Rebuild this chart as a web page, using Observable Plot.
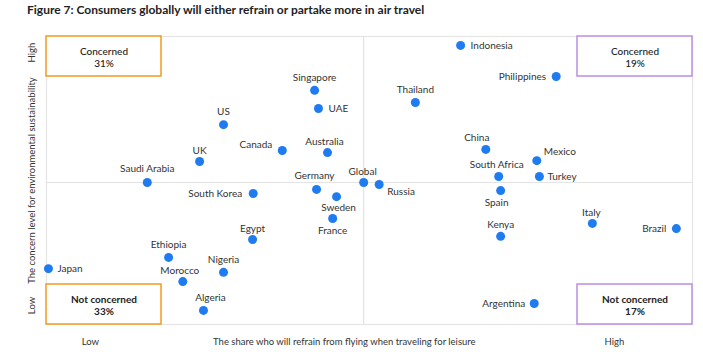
<!DOCTYPE html>
<html>
<head>
<meta charset="utf-8">
<script src="https://cdn.jsdelivr.net/npm/d3@7"></script>
<script src="https://cdn.jsdelivr.net/npm/@observablehq/plot@0.6"></script>
<style>
  html, body { margin: 0; padding: 0; background: #fff; overflow: hidden; }
  #title { font-family: Lato, sans-serif; font-weight: 700; font-size: 12px; color: #222;
           height: 20px; line-height: 20px; padding-left: 27px; white-space: nowrap; }
  #chart svg { display: block; }
</style>
</head>
<body>
<div id="title">Figure 7: Consumers globally will either refrain or partake more in air travel</div>
<div id="chart"></div>
<script>
// ---- data (0–100 index scales) ----
const countries = ["Indonesia","Philippines","Singapore","UAE","Thailand","US","Canada","Australia","UK",
  "Germany","Global","Russia","South Korea","Sweden","France","Egypt","Saudi Arabia","China","Mexico",
  "South Africa","Turkey","Spain","Italy","Kenya","Brazil","Japan","Ethiopia","Morocco","Nigeria","Algeria","Argentina"];
const refrainShare = [64.1,78.9,41.5,42.1,57.1,27.4,36.5,43.5,23.7,
  41.8,49.1,51.5,32.0,44.9,44.3,31.9,15.6,68.0,75.9,
  70.0,76.3,70.3,84.5,70.3,97.5,0.3,18.9,21.1,27.4,24.3,75.5];
const concernLevel = [96.9,86.1,81.3,75.0,77.1,69.4,60.4,59.7,56.6,
  46.9,49.3,48.6,45.5,44.4,36.8,29.5,49.3,60.8,56.9,
  51.4,51.4,46.5,35.1,30.6,33.3,19.4,23.3,14.9,18.1,4.9,7.3];

const quadrantLabels = ["Concerned","Concerned","Not concerned","Not concerned"];
const quadrantShares = [31,19,33,17];
const quadrantSide = ["left","right","left","right"];
const quadrantLevel = ["top","top","bottom","bottom"];

const xTickLabels = ["Low","High"];
const yTickLabels = ["Low","High"];
const xTitle = "The share who will refrain from flying when traveling for leisure";
const yTitle = "The concern level for environmental sustainability";

// ---- presentation ----
const BLUE = "#1f7cf0", ORANGE = "#f39a1e", PURPLE = "#bb8de3", GRID = "#e4e4e4", INK = "#333";
// label placement: [anchor, dx, dy]
const place = {
  "Indonesia":["start",10,0], "Philippines":["end",-10,0], "Singapore":["middle",0,-13], "UAE":["start",10,0],
  "Thailand":["middle",0,-13], "US":["middle",0,-13], "Canada":["end",-10,-6], "Australia":["middle",-3,-11],
  "UK":["middle",0,-11], "Germany":["middle",-2,-14], "Global":["middle",-1,-11], "Russia":["start",8,7],
  "South Korea":["end",-11,0], "Sweden":["middle",2,11], "France":["middle",0,12], "Egypt":["middle",0,-11],
  "Saudi Arabia":["middle",0,-14], "China":["middle",-9,-12], "Mexico":["start",7,-9],
  "South Africa":["middle",-2,-12], "Turkey":["start",8,0], "Spain":["middle",-4,12], "Italy":["middle",-1,-11],
  "Kenya":["middle",0,-12], "Brazil":["end",-10,0], "Japan":["start",9,0], "Ethiopia":["middle",0,-13],
  "Morocco":["middle",-3,-11], "Nigeria":["middle",0,-13], "Algeria":["middle",7,-13], "Argentina":["end",-9,0]
};

const data = countries.map((c, i) => ({country: c, x: refrainShare[i], y: concernLevel[i]}));
const globalPt = data.find(d => d.country === "Global");

const W = 703, H = 332, mL = 46, mR = 11, mT = 16, mB = 28;
const xDom = [0, 100], yDom = [0, 100];
const kx = (W - mL - mR) / (xDom[1] - xDom[0]);   // px per unit
const ky = (H - mT - mB) / (yDom[1] - yDom[0]);
const boxW = 115 / kx, boxH = 40 / ky;

const quads = quadrantLabels.map((l, i) => {
  const left = quadrantSide[i] === "left", top = quadrantLevel[i] === "top";
  return {
    label: l, share: quadrantShares[i], color: left ? ORANGE : PURPLE, bold: !top,
    x1: left ? xDom[0] : xDom[1] - boxW, x2: left ? xDom[0] + boxW : xDom[1],
    y1: top ? yDom[1] - boxH : yDom[0], y2: top ? yDom[1] : yDom[0] + boxH
  };
});

const labelMarks = data.map(d => {
  const [a, dx, dy] = place[d.country];
  return Plot.text([d], {x: "x", y: "y", text: "country", textAnchor: a, dx, dy, fill: INK, fontSize: 10});
});

const axisText = {fill: INK, fontSize: 9.5, textAnchor: "middle", lineAnchor: "middle"};

const chart = Plot.plot({
  width: W, height: H, marginLeft: mL, marginRight: mR, marginTop: mT, marginBottom: mB,
  x: {domain: xDom, axis: null},
  y: {domain: yDom, axis: null},
  style: {fontFamily: "Lato, sans-serif", fontSize: "10px", color: INK, background: "#fff"},
  marks: [
    Plot.frame({stroke: GRID, strokeWidth: 1.2}),
    Plot.ruleX([globalPt.x], {stroke: GRID, strokeWidth: 1.2}),
    Plot.ruleY([globalPt.y], {stroke: GRID, strokeWidth: 1.2}),
    Plot.rect(quads, {x1: "x1", x2: "x2", y1: "y1", y2: "y2", fill: "#fff", stroke: "color", strokeWidth: 1.5}),
    Plot.text(quads.filter(q => !q.bold), {x: d => (d.x1 + d.x2) / 2, y: d => (d.y1 + d.y2) / 2, dy: 1,
      text: d => `${d.label}\n${d.share}%`, lineHeight: 1.2, fill: "#222", fontSize: 10, fontWeight: 500}),
    Plot.text(quads.filter(q => q.bold), {x: d => (d.x1 + d.x2) / 2, y: d => (d.y1 + d.y2) / 2, dy: 1,
      text: d => `${d.label}\n${d.share}%`, lineHeight: 1.2, fill: "#222", fontSize: 10, fontWeight: 700}),
    Plot.dot(data, {x: "x", y: "y", r: 4.5, fill: BLUE, clip: false}),
    ...labelMarks,
    // axis annotations
    Plot.text(xTickLabels, {x: (d, i) => i === 0 ? 6.8 : 87.9, frameAnchor: "bottom", dy: 17, text: d => d, ...axisText}),
    Plot.text([xTitle], {x: 46.1, frameAnchor: "bottom", dy: 17, text: d => d, ...axisText}),
    Plot.text(yTickLabels, {y: (d, i) => i === 0 ? 6.6 : 94.4, frameAnchor: "left", dx: -15, rotate: -90, text: d => d, ...axisText}),
    Plot.text([yTitle], {frameAnchor: "left", dx: -15, rotate: -90, text: d => d, ...axisText})
  ]
});
document.getElementById("chart").append(chart);
</script>
</body>
</html>
